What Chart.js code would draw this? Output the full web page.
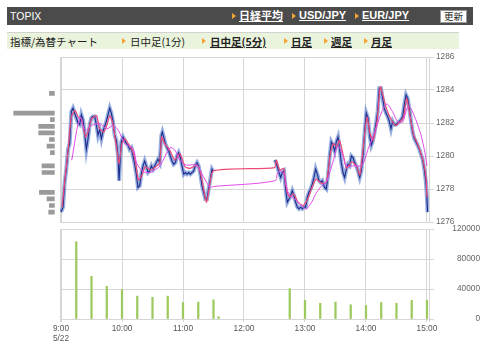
<!DOCTYPE html>
<html><head><meta charset="utf-8">
<script src="https://cdn.jsdelivr.net/npm/chart.js@4.4.1/dist/chart.umd.min.js"></script>
<style>
body{margin:0;width:480px;height:351px;background:#fff;position:relative;overflow:hidden;font-family:"Liberation Sans","Noto Sans CJK JP",sans-serif;}
.abs{position:absolute;white-space:nowrap;}
#topbar{left:7px;top:7px;width:466px;height:18px;background:#4b4b4b;}
#subbar{left:7px;top:32px;width:452px;height:16px;background:#eaf3dc;border-top:1px solid #d2d2d2;}
.tri{position:absolute;width:0;height:0;border-left:4px solid #f2a533;border-top:3px solid transparent;border-bottom:3px solid transparent;}
.wl{color:#fff;font-weight:bold;text-decoration:underline;font-size:11px;line-height:13px;}
.gl{color:#222;font-size:10.5px;line-height:13px;font-family:"Noto Sans CJK JP",sans-serif;}
.gl.b{font-weight:bold;text-decoration:underline;}
#btn{left:440px;top:10px;width:25px;height:11px;background:#fff;border:1px solid #999;font-size:9.5px;line-height:11px;text-align:center;color:#222;font-family:"Noto Sans CJK JP",sans-serif;}
canvas{position:absolute;}
</style></head>
<body>
<div id="topbar" class="abs"></div>
<div class="abs" style="left:10px;top:10px;color:#fff;font-size:10.5px;line-height:12px;">TOPIX</div>
<div class="tri" style="left:232px;top:13px;"></div><div class="abs wl" style="left:239px;top:9px;font-family:'Noto Sans CJK JP';">日経平均</div>
<div class="tri" style="left:292px;top:13px;"></div><div class="abs wl" style="left:299px;top:9px;">USD/JPY</div>
<div class="tri" style="left:355px;top:13px;"></div><div class="abs wl" style="left:362px;top:9px;">EUR/JPY</div>
<div id="btn" class="abs">更新</div>
<div id="subbar" class="abs"></div>
<div class="abs gl" style="left:10px;top:35px;">指標/為替チャート</div>
<div class="tri" style="left:122px;top:38px;"></div><div class="abs gl" style="left:130px;top:35px;">日中足(1分)</div>
<div class="tri" style="left:202px;top:38px;"></div><div class="abs gl b" style="left:210px;top:35px;">日中足(5分)</div>
<div class="tri" style="left:284px;top:38px;"></div><div class="abs gl b" style="left:291px;top:35px;">日足</div>
<div class="tri" style="left:324px;top:38px;"></div><div class="abs gl b" style="left:331px;top:35px;">週足</div>
<div class="tri" style="left:364px;top:38px;"></div><div class="abs gl b" style="left:371px;top:35px;">月足</div>

<canvas id="profile" width="60" height="180" style="left:0;top:50px;"></canvas>
<canvas id="price" width="480" height="180" style="left:0;top:50px;"></canvas>
<canvas id="volume" width="480" height="131" style="left:0;top:220px;"></canvas>

<script>
// ---- data (time = minutes after 9:00) ----
const dateLabel = '5/22';
const hourTicks = [0, 60, 120, 180, 240, 300, 360];
const priceTicks = [1276, 1278, 1280, 1282, 1284, 1286];
const volumeTicks = [0, 40000, 80000, 120000];

const morningClose = [[0,1276.6],[2,1276.9],[3.6,1278.4],[5.2,1279.2],[6.9,1280.4],[8.5,1280.75],[10.2,1282.7],[11.8,1282.9],[13.4,1282.6],[15.1,1282.3],[16.7,1282.0],[18.4,1281.9],[20,1282.5],[21.6,1282.2],[23.3,1281.4],[24.9,1280.4],[26.6,1281.05],[28.2,1281.9],[29.8,1282.3],[31.5,1282.4],[33.1,1282.4],[34.8,1281.9],[36.4,1281.25],[38,1281.6],[39.7,1281.05],[41.3,1281.5],[43,1281.8],[44.6,1282.1],[46.2,1282.5],[47.9,1282.9],[49.5,1282.6],[51.1,1282.1],[52.8,1281.25],[54.4,1280.95],[56.1,1280.0],[57.1,1278.5],[58.4,1280.0],[59.3,1280.85],[61,1281.15],[62.6,1280.95],[64.3,1280.75],[65.9,1280.65],[67.5,1280.4],[69.2,1280.5],[70.8,1280.0],[72.5,1279.5],[74.1,1278.9],[75.7,1278.1],[77.4,1278.2],[79,1278.9],[80.7,1279.4],[82.3,1279.7],[83.9,1279.4],[85.6,1279.0],[87.2,1279.1],[88.9,1279.4],[90.5,1279.2],[92.1,1279.4],[93.8,1279.6],[95.4,1279.8],[97.1,1279.6],[98.7,1281.25],[99.7,1281.45],[101,1281.15],[102.6,1280.75],[104.3,1280.5],[105.9,1280.3],[107.5,1280.0],[109.2,1279.7],[110.8,1279.5],[112.5,1279.6],[114.1,1280.0],[115.7,1280.2],[117.4,1279.9],[119,1279.4],[120.7,1278.9],[122.3,1279.0],[123.9,1278.9],[125.6,1279.0],[127.2,1278.9],[128.9,1279.0],[130.5,1279.1],[132.1,1279.4],[133.8,1279.6],[135.4,1279.4],[137,1278.9],[138.7,1278.2],[140.3,1277.8],[142,1277.4],[143.6,1277.4],[145.2,1278.0],[146.9,1278.6],[148.5,1279.2],[149.5,1279.1]];

const afternoonClose = [[210.2,1279.75],[211.5,1279.6],[212.8,1279.35],[214.4,1279.0],[216.1,1278.7],[217.7,1279.0],[219.3,1279.1],[221,1278.0],[222.6,1277.2],[224.3,1277.4],[225.9,1277.6],[227.5,1277.9],[229.2,1277.6],[230.8,1277.2],[232.5,1276.9],[234.1,1276.8],[235.7,1276.9],[237.4,1276.8],[239,1276.9],[240.7,1276.9],[242.3,1277.5],[243.9,1277.8],[245.6,1278.0],[247.2,1278.3],[248.9,1278.7],[250.5,1279.2],[252.1,1278.9],[253.8,1278.5],[255.4,1278.4],[257,1278.5],[259.3,1278.1],[261,1278.0],[262.6,1278.8],[264.3,1280.0],[265.9,1280.85],[267.5,1280.65],[269.2,1280.3],[270.8,1280.85],[272.5,1281.15],[274.1,1280.4],[275.7,1279.6],[277.4,1279.0],[279,1278.7],[280.7,1279.2],[282.3,1279.5],[283.9,1279.4],[285.6,1280.0],[287.2,1279.9],[288.9,1279.6],[290.5,1279.4],[292.1,1279.1],[293.8,1278.7],[295.4,1279.1],[297,1280.0],[298.7,1281.45],[300.3,1282.6],[302,1282.3],[303.6,1281.25],[305.2,1280.65],[306.9,1280.95],[308.5,1281.45],[310.2,1282.1],[311.5,1282.7],[313.1,1284.1],[314.8,1284.1],[316.4,1283.5],[318,1282.9],[319.7,1282.6],[321.3,1282.4],[323,1282.1],[324.6,1281.65],[326.2,1282.1],[327.9,1281.9],[329.5,1281.9],[331.2,1282.0],[332.8,1282.1],[334.4,1282.2],[336.1,1282.4],[337.7,1283.1],[339.4,1283.7],[341,1283.5],[342.6,1282.9],[344.3,1282.1],[345.9,1281.45],[347.6,1281.05],[349.2,1280.85],[350.8,1280.65],[352.5,1280.4],[354.1,1280.1],[355.7,1279.8],[357.4,1279.2],[359,1278.4],[360,1277.4],[360.6,1276.6]];

const shortAvg = [[1,1276.9],[4,1278.7],[7,1280.35],[10,1282.35],[14,1282.75],[17,1282.35],[20,1282.25],[24,1281.15],[27,1281.55],[30,1282.25],[35,1282.45],[38,1281.65],[42,1281.45],[45,1281.85],[48,1282.45],[51,1281.95],[55,1280.35],[57,1279.55],[60,1280.75],[63,1281.05],[66,1280.75],[70,1280.35],[73,1279.75],[76,1278.55],[79,1278.75],[83,1279.35],[88,1279.15],[93,1279.35],[97,1279.55],[99,1281.15],[102,1280.75],[107,1280.35],[112,1279.75],[117,1280.15],[122,1279.35],[127,1279.25],[134,1279.45],[138,1278.75],[143,1277.2],[146,1278.1],[150,1279.1],[210,1279.3],[212,1279.75],[215,1279.15],[219,1279.25],[222,1277.9],[225,1277.5],[229,1277.7],[233,1277.2],[238,1277.0],[242,1277.3],[247,1278.1],[251,1278.6],[256,1278.35],[261,1278.4],[265,1280.15],[268,1280.75],[271,1280.55],[274,1280.95],[278,1279.95],[281,1279.25],[286,1279.65],[291,1279.35],[294,1278.85],[297,1280.35],[301,1282.35],[304,1281.35],[307,1280.95],[311,1282.15],[314,1284.2],[317,1283.6],[320,1282.9],[324,1282.3],[329,1281.85],[333,1282.05],[337,1282.35],[340,1283.5],[343,1282.55],[347,1281.25],[350,1280.85],[353,1280.35],[356,1279.75],[359,1278.75],[360,1277.5]];

const longAvg = [[10.5,1279.75],[18.7,1282.35],[23.6,1281.55],[30.2,1281.85],[38.4,1281.95],[45,1281.65],[51.4,1281.85],[56.4,1281.55],[63,1280.75],[71,1280.45],[74.5,1279.55],[81,1279.05],[87.5,1279.0],[91,1279.1],[97.4,1279.4],[107.2,1280.5],[112,1280.35],[117,1279.75],[123.6,1279.45],[133.5,1279.45],[140,1278.75],[146.6,1278.1],[149.8,1278.15],[210.5,1278.5],[213,1279.0],[215.5,1279.1],[218.7,1279.0],[222,1278.1],[225,1277.6],[232,1277.3],[238,1276.9],[241.5,1276.8],[246.5,1277.2],[251.5,1277.8],[258,1278.3],[261.3,1278.45],[267.8,1279.7],[272.5,1280.6],[277.5,1280.0],[280.5,1279.4],[287,1279.4],[296,1279.45],[302.5,1280.5],[309,1281.5],[315,1282.6],[320.5,1283.15],[326,1282.7],[331,1282.1],[336,1282.05],[341,1283.0],[344,1282.9],[349,1282.2],[354,1281.3],[358,1280.2],[360,1279.4]];

const volumeTimes  = [15, 30, 45, 60, 75, 90, 105, 120, 135, 150, 155, 225, 240, 255, 270, 285, 300, 315, 330, 345, 360];
const volumeValues = [103000, 57000, 43500, 39000, 30500, 29000, 30500, 22000, 22500, 25500, 3000, 40500, 25000, 21000, 22500, 19000, 18000, 22000, 21000, 25000, 25000];

const profilePrices  = [1283.8, 1282.6, 1282.2, 1281.8, 1281.4, 1281.0, 1280.6, 1280.2, 1279.4, 1279.0, 1277.8, 1277.4, 1277.0, 1276.6];
const profileAmounts = [5.3, 41, 4.3, 16, 16, 5.3, 7.7, 4.3, 12.7, 12.7, 15.3, 7.7, 5.3, 6];
const profileMax = 54.7;

// ---- build ----
const toXY = a => a.map(p => ({x: p[0], y: p[1]}));
const closeData = toXY(morningClose).concat([{x: 180, y: null}], toXY(afternoonClose));
const gridColor = '#d6d6d6';
const tickFont = {family: 'Liberation Sans', size: 8.3};
const xMin = -1, xMax = 362;
const edgeTicks = () => [xMin].concat(hourTicks, [xMax]).map(v => ({value: v}));
const plain = v => String(v);

new Chart(document.getElementById('price'), {
  type: 'line',
  data: { datasets: [
    {data: toXY(longAvg), borderColor: '#e04ce8', borderWidth: 1, pointRadius: 0, tension: 0.3},
    {data: toXY(shortAvg), borderColor: '#ee4a78', borderWidth: 1.2, pointRadius: 0, tension: 0.2},
    {data: closeData, borderColor: '#1d2c8c', borderWidth: 1.1, pointRadius: 0, spanGaps: false},
    {data: closeData, borderColor: 'rgba(105,140,210,0.7)', borderWidth: 4, pointRadius: 0, spanGaps: false}
  ]},
  options: {
    responsive: false, animation: false, devicePixelRatio: 1,
    layout: {padding: {left: 60, top: 7, right: 0, bottom: 0}},
    plugins: {legend: {display: false}, tooltip: {enabled: false}},
    scales: {
      x: {type: 'linear', min: xMin, max: xMax,
          afterBuildTicks: s => { s.ticks = edgeTicks(); },
          afterFit: s => { s.height = 8; },
          ticks: {display: false}, border: {display: false},
          grid: {color: gridColor, drawTicks: false}},
      y: {position: 'right', min: 1276, max: 1286,
          afterBuildTicks: s => { s.ticks = priceTicks.map(v => ({value: v})); },
          afterFit: s => { s.width = 51; },
          ticks: {font: tickFont, color: '#666', padding: 2, callback: plain},
          border: {display: false},
          grid: {color: gridColor, tickLength: 5}}
    }
  }
});

new Chart(document.getElementById('volume'), {
  type: 'bar',
  data: { datasets: [{
    data: volumeTimes.map((t, i) => ({x: t, y: volumeValues[i]})),
    backgroundColor: '#9dca5e', barThickness: 1.6
  }]},
  options: {
    responsive: false, animation: false, devicePixelRatio: 1,
    layout: {padding: {left: 60, top: 9, right: 0, bottom: 0}},
    plugins: {legend: {display: false}, tooltip: {enabled: false}},
    scales: {
      x: {type: 'linear', min: xMin, max: xMax, offset: false,
          afterBuildTicks: s => { s.ticks = edgeTicks(); },
          afterFit: s => { s.height = 32; },
          ticks: {font: tickFont, color: '#555', padding: 1.3, autoSkip: false, maxRotation: 0,
                  callback: v => { if (v < 0 || v > 360) return ''; const l = (9 + v / 60) + ':00'; return v === 0 ? [l, dateLabel] : l; }},
          border: {display: false},
          grid: {color: gridColor, tickLength: 3, offset: false}},
      y: {position: 'right', min: 0, max: 120000,
          afterBuildTicks: s => { s.ticks = volumeTicks.map(v => ({value: v})); },
          afterFit: s => { s.width = 51; },
          ticks: {font: tickFont, color: '#666', padding: 2.5, crossAlign: 'far', callback: plain},
          border: {display: false},
          grid: {color: gridColor, tickLength: 5}}
    }
  }
});

new Chart(document.getElementById('profile'), {
  type: 'bar',
  data: { datasets: [{
    data: profilePrices.map((p, i) => ({x: profileAmounts[i], y: p})),
    backgroundColor: '#9a9a9a', barThickness: 4
  }]},
  options: {
    indexAxis: 'y', responsive: false, animation: false, devicePixelRatio: 1,
    layout: {padding: {left: 0, top: 7, right: 5.3, bottom: 8}},
    plugins: {legend: {display: false}, tooltip: {enabled: false}},
    scales: {
      y: {type: 'linear', min: 1276, max: 1286, display: false, offset: false},
      x: {type: 'linear', min: 0, max: profileMax, reverse: true, display: false}
    }
  }
});
</script>
</body></html>
